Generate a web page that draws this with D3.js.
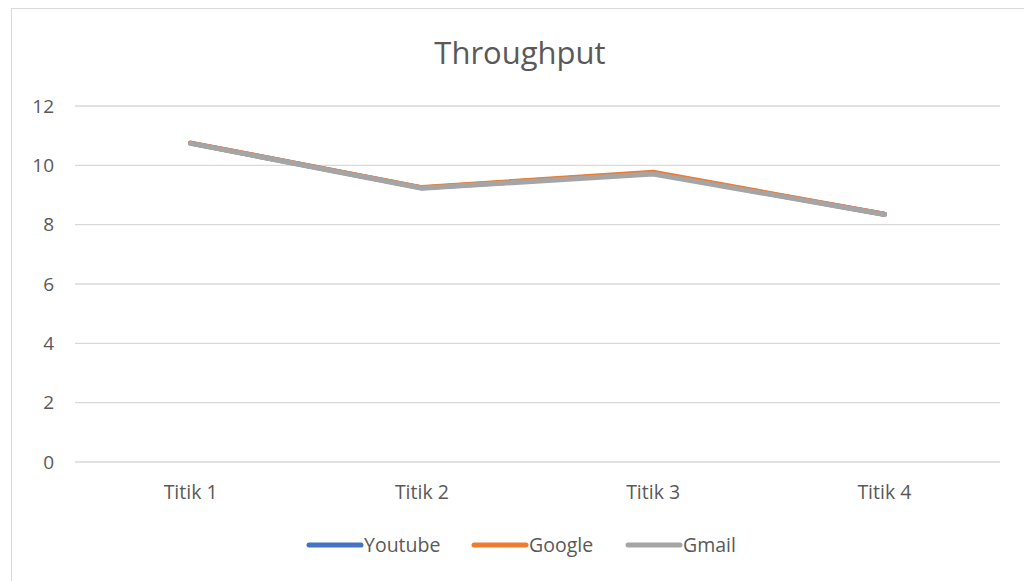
<!DOCTYPE html>
<html>
<head>
<meta charset="utf-8">
<script src="https://cdn.jsdelivr.net/npm/d3@7"></script>
<style>
  body { margin: 0; background: #fff; }
  text { font-family: "Open Sans", "Noto Sans", sans-serif; fill: #595959; }
</style>
</head>
<body>
<div id="chart"></div>
<script>
const categories = ['Titik 1', 'Titik 2', 'Titik 3', 'Titik 4'];
const youtube = [10.75, 9.24, 9.74, 8.35];
const google = [10.75, 9.25, 9.77, 8.35];
const gmail = [10.74, 9.23, 9.71, 8.34];
const yTicks = [0, 2, 4, 6, 8, 10, 12];

const series = [
    { name: 'Youtube', values: youtube, color: '#4472C4' },
    { name: 'Google', values: google, color: '#ED7D31' },
    { name: 'Gmail', values: gmail, color: '#A5A5A5' }
];

const width = 1024;
const height = 581;
const margin = { left: 75, right: 24, top: 106, bottom: 119 };

const svg = d3.select('#chart').append('svg')
    .attr('width', width)
    .attr('height', height);

// chart frame
svg.append('rect')
    .attr('x', 11.5).attr('y', 8.5)
    .attr('width', 1030).attr('height', 600)
    .attr('fill', 'none')
    .attr('stroke', '#d9d9d9');

const x = d3.scaleBand()
    .domain(categories)
    .range([margin.left, width - margin.right]);

const y = d3.scaleLinear()
    .domain([0, 12])
    .range([height - margin.bottom, margin.top]);

// gridlines
svg.append('g')
    .selectAll('line')
    .data(yTicks)
    .enter()
    .append('line')
    .attr('x1', margin.left)
    .attr('x2', width - margin.right)
    .attr('y1', d => y(d))
    .attr('y2', d => y(d))
    .attr('stroke', '#d9d9d9')
    .attr('stroke-width', 1.3);

// y labels
svg.append('g')
    .selectAll('text')
    .data(yTicks)
    .enter()
    .append('text')
    .attr('x', 54)
    .attr('y', d => y(d))
    .attr('dy', '0.35em')
    .attr('text-anchor', 'end')
    .style('font-size', '19px')
    .text(d => d);

// x labels
svg.append('g')
    .selectAll('text')
    .data(categories)
    .enter()
    .append('text')
    .attr('x', d => x(d) + x.bandwidth() / 2)
    .attr('y', 499)
    .attr('text-anchor', 'middle')
    .style('font-size', '19.5px')
    .text(d => d);

// lines
const line = d3.line()
    .x((d, i) => x(categories[i]) + x.bandwidth() / 2)
    .y(d => y(d));

svg.append('g')
    .selectAll('path')
    .data(series)
    .enter()
    .append('path')
    .attr('d', d => line(d.values))
    .attr('fill', 'none')
    .attr('stroke', d => d.color)
    .attr('stroke-width', 5)
    .attr('stroke-linecap', 'round')
    .attr('stroke-linejoin', 'round');

// title
svg.append('text')
    .attr('x', 520)
    .attr('y', 64)
    .attr('text-anchor', 'middle')
    .style('font-size', '31px')
    .text('Throughput');

// legend
const legendX = [307, 472, 626];
const legend = svg.selectAll('.legend')
    .data(series)
    .enter()
    .append('g')
    .attr('class', 'legend')
    .attr('transform', (d, i) => `translate(${legendX[i]}, 545)`);

legend.append('line')
    .attr('x1', 2).attr('x2', 54)
    .attr('y1', 0).attr('y2', 0)
    .attr('stroke', d => d.color)
    .attr('stroke-width', 5)
    .attr('stroke-linecap', 'round');

legend.append('text')
    .attr('x', 57)
    .attr('y', 0)
    .attr('dy', '0.35em')
    .style('font-size', '19.5px')
    .text(d => d.name);
</script>
</body>
</html>
